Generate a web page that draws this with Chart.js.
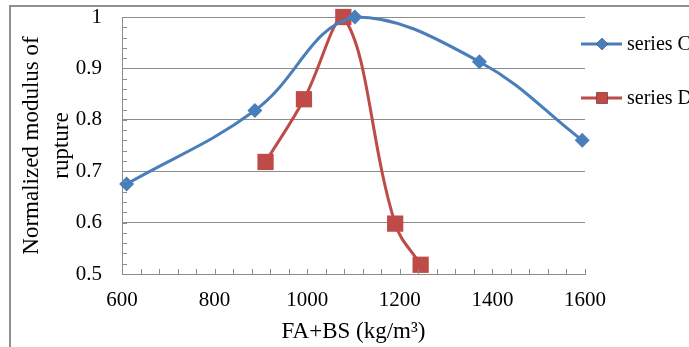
<!DOCTYPE html>
<html>
<head>
<meta charset="utf-8">
<script src="https://cdn.jsdelivr.net/npm/chart.js@4/dist/chart.umd.min.js"></script>
<style>
  html, body { margin: 0; padding: 0; background: #fff; }
  #wrap { width: 689px; height: 347px; position: relative; }
</style>
</head>
<body>
<div id="wrap"><canvas id="chart"></canvas></div>
<script>
// values
var seriesNames = ['series C', 'series D'];
var seriesCx = [610, 887, 1103, 1372, 1594];
var seriesCy = [0.675, 0.818, 1.0, 0.913, 0.760];
var seriesDx = [910, 993, 1078, 1190, 1245];
var seriesDy = [0.718, 0.840, 1.0, 0.598, 0.518];
var xTicks = [600, 800, 1000, 1200, 1400, 1600];
var yTicks = [0.5, 0.6, 0.7, 0.8, 0.9, 1];

var blue = '#4A7EBB';
var red = '#BE4B48';
var axisGray = '#8c8c8c';
var serif = '"Liberation Serif", "Times New Roman", serif';
var tickSize = 21;
var titleSize = 23;

var toPoints = function(xs, ys) {
    var pts = [];
    for (var i = 0; i < xs.length; i++) {
        pts.push({ x: xs[i], y: ys[i] });
    }
    return pts;
};

// frame + minor tick marks + legend
var decor = {
    id: 'decor',
    beforeDraw: function(chart) {
        var ctx = chart.ctx;
        ctx.save();
        ctx.strokeStyle = '#8f8f8f';
        ctx.lineWidth = 2;
        ctx.beginPath();
        ctx.moveTo(10, 347);
        ctx.lineTo(10, 6);
        ctx.lineTo(689, 6);
        ctx.stroke();
        ctx.restore();
    },
    afterDatasetsDraw: function(chart) {
        var ctx = chart.ctx;
        var xs = chart.scales.x, ys = chart.scales.y;
        var area = chart.chartArea;
        ctx.save();
        ctx.strokeStyle = axisGray;
        ctx.lineWidth = 1;
        ctx.beginPath();
        for (var v = xTicks[0]; v <= xTicks[xTicks.length - 1]; v += 40) {
            var px = Math.round(xs.getPixelForValue(v)) + 0.5;
            ctx.moveTo(px, area.bottom);
            ctx.lineTo(px, area.bottom - 5);
        }
        for (var k = 0; k <= 25; k++) {
            var py = Math.round(ys.getPixelForValue(0.5 + k * 0.02)) + 0.5;
            ctx.moveTo(area.left, py);
            ctx.lineTo(area.left + 5, py);
        }
        ctx.stroke();
        ctx.restore();
    },
    afterDraw: function(chart) {
        var ctx = chart.ctx;
        var rows = [44, 98];
        ctx.save();
        chart.data.datasets.forEach(function(ds, i) {
            var y = rows[i];
            ctx.strokeStyle = ds.borderColor;
            ctx.lineWidth = 3;
            ctx.beginPath();
            ctx.moveTo(581, y);
            ctx.lineTo(622, y);
            ctx.stroke();
            Chart.helpers.drawPoint(ctx, {
                pointStyle: ds.pointStyle,
                radius: i === 0 ? 6 : 8,
                borderWidth: 0
            }, 602, y);
            ctx.fillStyle = ds.borderColor;
            ctx.fill();
            ctx.fillStyle = '#000';
            ctx.font = '20px ' + serif;
            ctx.textBaseline = 'middle';
            ctx.fillText(seriesNames[i], 627, y + 1);
        });
        ctx.restore();
    }
};

var ctx = document.getElementById('chart').getContext('2d');
var myChart = new Chart(ctx, {
    type: 'line',
    data: {
        datasets: [{
            label: seriesNames[0],
            data: toPoints(seriesCx, seriesCy),
            borderColor: blue,
            backgroundColor: blue,
            borderWidth: 3,
            pointStyle: 'rectRot',
            pointRadius: 7.5,
            pointBorderWidth: 0,
            tension: 0.4,
            clip: 12
        }, {
            label: seriesNames[1],
            data: toPoints(seriesDx, seriesDy),
            borderColor: red,
            backgroundColor: red,
            borderWidth: 3,
            pointStyle: 'rect',
            pointRadius: 11.5,
            pointBorderWidth: 0,
            tension: 0.4,
            clip: 12
        }]
    },
    options: {
        responsive: true,
        maintainAspectRatio: false,
        animation: false,
        layout: { padding: { left: 12, top: 17, right: 104, bottom: 0 } },
        plugins: {
            legend: { display: false },
            tooltip: { enabled: false }
        },
        scales: {
            x: {
                type: 'linear',
                min: 600,
                max: 1600,
                afterBuildTicks: function(scale) {
                    scale.ticks = xTicks.map(function(v) { return { value: v }; });
                },
                afterFit: function(scale) {
                    scale.height = 73;
                    scale.paddingLeft = 0;
                    scale.paddingRight = 0;
                },
                grid: { display: false, drawTicks: false },
                border: { display: true, color: axisGray, width: 1 },
                ticks: {
                    color: '#000',
                    padding: 14,
                    font: { family: serif, size: tickSize },
                    callback: function(v) { return String(v); }
                },
                title: {
                    display: true,
                    text: 'FA+BS (kg/m³)',
                    color: '#000',
                    font: { family: serif, size: titleSize },
                    padding: { top: 0, bottom: 1 }
                }
            },
            y: {
                min: 0.5,
                max: 1,
                afterBuildTicks: function(scale) {
                    scale.ticks = yTicks.map(function(v) { return { value: v }; });
                },
                afterFit: function(scale) {
                    scale.width = 110;
                    scale.paddingTop = 0;
                    scale.paddingBottom = 0;
                },
                grid: { color: axisGray, lineWidth: 1, drawTicks: false },
                border: { display: true, color: axisGray, width: 1 },
                ticks: {
                    color: '#000',
                    padding: 20,
                    font: { family: serif, size: tickSize },
                    callback: function(v) { return String(Math.round(v * 10) / 10); }
                },
                title: {
                    display: true,
                    text: ['Normalized modulus of', 'rupture'],
                    color: '#000',
                    font: { family: serif, size: titleSize, lineHeight: 1.3 },
                    padding: { top: 5, bottom: 0 }
                }
            }
        }
    },
    plugins: [decor]
});
</script>
</body>
</html>
